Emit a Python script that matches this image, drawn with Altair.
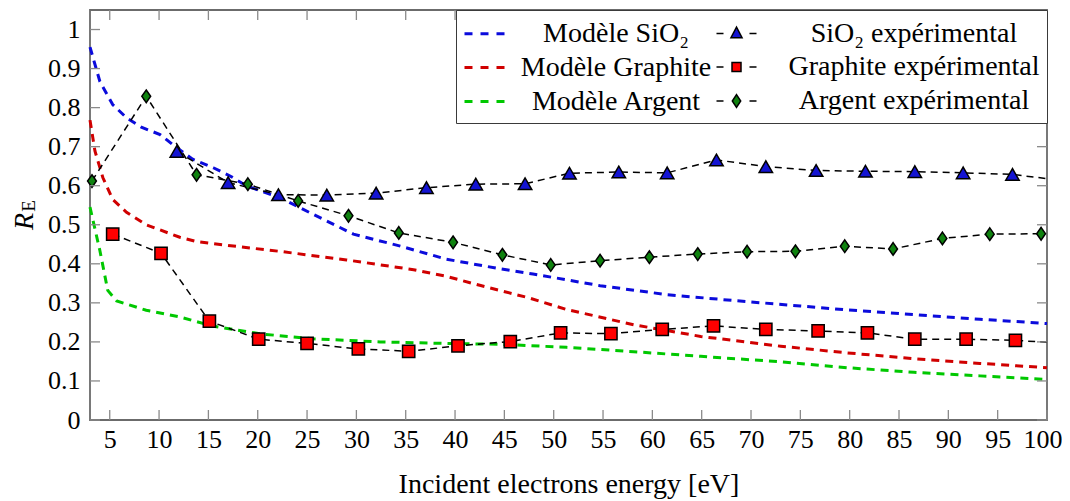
import altair as alt
import pandas as pd

# ---------------- data ----------------
sio2_model_x = [3, 4, 5.3, 6.7, 8.2, 10.1, 11.8, 13.4, 15.5, 17.2, 18.9, 22.2, 25.6, 29.7, 34.5,
                39.1, 44.6, 47.9, 54.7, 61.5, 68.2, 75, 79.7, 86.5, 93.2, 100]
sio2_model_y = [0.955, 0.867, 0.808, 0.774, 0.750, 0.731, 0.697, 0.668, 0.646, 0.625, 0.599,
                0.570, 0.527, 0.476, 0.445, 0.412, 0.387, 0.374, 0.344, 0.321, 0.306, 0.292,
                0.282, 0.270, 0.258, 0.247]

graphite_model_x = [3, 3.5, 4.3, 5.3, 6.7, 8.7, 12.1, 13.8, 17, 22.2, 29, 35.8, 39.1, 42.5,
                    47.6, 51.3, 58.1, 64.9, 73, 79.7, 86.5, 93.2, 100]
graphite_model_y = [0.768, 0.689, 0.621, 0.565, 0.532, 0.500, 0.468, 0.457, 0.447, 0.432,
                    0.410, 0.385, 0.368, 0.345, 0.312, 0.283, 0.244, 0.214, 0.189, 0.172,
                    0.157, 0.145, 0.134]

argent_model_x = [3, 4, 4.8, 5.7, 8.7, 12.1, 15.5, 20.5, 25.6, 32.4, 39.1, 44.6, 51.3, 58.1,
                  64.9, 73, 79.7, 86.5, 93.2, 100]
argent_model_y = [0.545, 0.434, 0.332, 0.305, 0.281, 0.264, 0.240, 0.220, 0.208, 0.200, 0.196,
                  0.194, 0.186, 0.175, 0.163, 0.149, 0.134, 0.122, 0.113, 0.104]

sio2_exp_x = [11.8, 17.0, 22.1, 27.0, 32.0, 37.1, 42.1, 47.1, 51.6, 56.6, 61.5, 66.5, 71.5,
              76.6, 81.6, 86.6, 91.5, 96.5, 100]
sio2_exp_y = [0.688, 0.608, 0.577, 0.576, 0.581, 0.595, 0.604, 0.605, 0.632, 0.635, 0.633,
              0.666, 0.649, 0.639, 0.637, 0.636, 0.633, 0.629, 0.618]

graphite_exp_x = [5.3, 10.2, 15.1, 20.1, 25.0, 30.2, 35.3, 40.3, 45.6, 50.7, 55.8, 61.0, 66.2,
                  71.5, 76.8, 81.8, 86.6, 91.8, 96.8, 100]
graphite_exp_y = [0.476, 0.427, 0.253, 0.207, 0.196, 0.182, 0.176, 0.190, 0.201, 0.223, 0.221,
                  0.232, 0.241, 0.232, 0.228, 0.223, 0.207, 0.207, 0.204, 0.199]

argent_exp_x = [3.2, 8.7, 13.8, 19.0, 24.1, 29.2, 34.3, 39.8, 44.8, 49.7, 54.7, 59.7, 64.6,
                69.6, 74.5, 79.5, 84.4, 89.4, 94.2, 99.4]
argent_exp_y = [0.612, 0.829, 0.628, 0.604, 0.561, 0.523, 0.479, 0.455, 0.423, 0.397, 0.408,
                0.417, 0.425, 0.431, 0.432, 0.445, 0.438, 0.465, 0.476, 0.477]

x_ticks = [5, 10, 15, 20, 25, 30, 35, 40, 45, 50, 55, 60, 65, 70, 75, 80, 85, 90, 95, 100]
y_ticks = [0, 0.1, 0.2, 0.3, 0.4, 0.5, 0.6, 0.7, 0.8, 0.9, 1]

# legend entries (column-major order: models first, then experiments)
legend_labels = ["Modèle SiO₂", "Modèle Graphite", "Modèle Argent",
                 "SiO₂ expérimental", "Graphite expérimental", "Argent expérimental"]
x_title = "Incident electrons energy [eV]"
y_title = "R"
y_title_sub = ["E"]

# ---------------- styling ----------------
FONT = "Liberation Serif, Times New Roman, serif"
W, H = 957, 410
X0, X1, Y0, Y1 = 3, 100, 0, 1.05
TICK_PX = 10

BLUE, RED, GREEN = "#0b0bdc", "#d00000", "#00c800"
TRI_FILL, SQ_FILL, DIA_FILL = "#1414d2", "#ff0000", "#0f820f"

xscale = alt.Scale(domain=[X0, X1], nice=False, zero=False)
yscale = alt.Scale(domain=[Y0, Y1], nice=False, zero=False)

x_axis = alt.Axis(values=x_ticks, ticks=False, tickSize=0, domain=False, grid=False,
                  labelFont=FONT, labelFontSize=26, labelColor="black", labelPadding=6,
                  labelFlush=True, labelFlushOffset=15, labelOverlap=False,
                  title=x_title, titleFont=FONT, titleFontSize=28, titleFontWeight="normal",
                  titleColor="black", titleX=W / 2, titleY=72, titleAlign="center",
                  titleBaseline="alphabetic")
y_axis = alt.Axis(values=y_ticks, format=".1~f", ticks=False, tickSize=0, domain=False,
                  grid=False, labelFont=FONT, labelFontSize=26, labelColor="black",
                  labelPadding=10, labelFlush=False, labelOverlap=False,
                  title=y_title, titleFont=FONT, titleFontSize=28, titleFontStyle="italic",
                  titleFontWeight="normal", titleColor="black", titleAngle=270,
                  titleX=-66, titleY=211, titleAlign="center", titleBaseline="middle")


def X(field="x"):
    return alt.X(f"{field}:Q", scale=xscale, axis=x_axis)


def Y(field="y"):
    return alt.Y(f"{field}:Q", scale=yscale, axis=y_axis)


def df(xs, ys):
    return pd.DataFrame({"x": xs, "y": ys})


layers = []

# model curves
for xs, ys, col in [(sio2_model_x, sio2_model_y, BLUE),
                    (graphite_model_x, graphite_model_y, RED),
                    (argent_model_x, argent_model_y, GREEN)]:
    layers.append(alt.Chart(df(xs, ys)).mark_line(color=col, strokeWidth=3, strokeDash=[8, 6])
                  .encode(x=X(), y=Y()))

# experimental dashed lines
for xs, ys in [(sio2_exp_x, sio2_exp_y), (graphite_exp_x, graphite_exp_y),
               (argent_exp_x, argent_exp_y)]:
    layers.append(alt.Chart(df(xs, ys)).mark_line(color="black", strokeWidth=1.5,
                                                  strokeDash=[7, 5])
                  .encode(x=X(), y=Y()))

# experimental markers
DIAMOND = "M0,-1L0.7,0L0,1L-0.7,0Z"
for xs, ys, shp, fill, size in [(sio2_exp_x, sio2_exp_y, "triangle-up", TRI_FILL, 180),
                                (graphite_exp_x, graphite_exp_y, "square", SQ_FILL, 150),
                                (argent_exp_x, argent_exp_y, DIAMOND, DIA_FILL, 160)]:
    layers.append(alt.Chart(df(xs, ys)).mark_point(shape=shp, filled=True, fill=fill,
                                                   stroke="black", strokeWidth=1.5,
                                                   size=size, opacity=1)
                  .transform_filter("datum.x < 99.9")
                  .encode(x=X(), y=Y()))

# inward ticks on all four sides
tl_y = TICK_PX / H * (Y1 - Y0)
tl_x = TICK_PX / W * (X1 - X0)
xt = pd.DataFrame({"x": x_ticks})
yt = pd.DataFrame({"y": y_ticks})
TICK_COLOR = "#8a8a8a"
layers.append(alt.Chart(xt).mark_rule(color=TICK_COLOR, strokeWidth=1.3)
              .encode(x=X(), y=alt.datum(Y0, scale=yscale), y2=alt.datum(Y0 + tl_y)))
layers.append(alt.Chart(xt).mark_rule(color=TICK_COLOR, strokeWidth=1.3)
              .encode(x=X(), y=alt.datum(Y1 - tl_y, scale=yscale), y2=alt.datum(Y1)))
layers.append(alt.Chart(yt).mark_rule(color=TICK_COLOR, strokeWidth=1.3)
              .encode(y=Y(), x=alt.datum(X0, scale=xscale), x2=alt.datum(X0 + tl_x)))
layers.append(alt.Chart(yt).mark_rule(color=TICK_COLOR, strokeWidth=1.3)
              .encode(y=Y(), x=alt.datum(X1 - tl_x, scale=xscale), x2=alt.datum(X1)))

# legend (built from a scale with an explicit domain; its own marks are filtered out)
MODEL_PATH = "M-1,0H-0.467M0.067,0H0.6M1.133,0H1.667"
EXP_DASH = "M-4.067,0H-3.6M-1.867,0H-1.4"
legend_paths = [MODEL_PATH, MODEL_PATH, MODEL_PATH,
                EXP_DASH + "M-2.733,-0.42L-2.363,0.28L-3.103,0.28Z",
                EXP_DASH + "M-3.033,-0.3H-2.433V0.3H-3.033Z",
                EXP_DASH + "M-2.733,-0.42L-2.453,0L-2.733,0.42L-3.013,0Z"]
legend_fills = ["transparent", "transparent", "transparent", TRI_FILL, SQ_FILL, DIA_FILL]
legend_strokes = [BLUE, RED, GREEN, "black", "black", "black"]
legend_widths = [3, 3, 3, 1.5, 1.5, 1.5]
leg = alt.Legend(title=None, orient="top-right", offset=0, columns=2, columnPadding=1,
                 rowPadding=3, padding=7, symbolSize=900, labelFont=FONT, labelFontSize=28,
                 labelColor="black", labelAlign="center", labelOffset=120, labelLimit=600,
                 strokeColor="#3a3a3a", fillColor="white", cornerRadius=0)
legend_layer = (alt.Chart(pd.DataFrame({"label": legend_labels}))
                .mark_point(filled=True, opacity=1)
                .transform_filter("false")
                .encode(shape=alt.Shape("label:N", scale=alt.Scale(domain=legend_labels,
                                                                    range=legend_paths),
                                        legend=leg),
                        fill=alt.Fill("label:N", scale=alt.Scale(domain=legend_labels,
                                                                 range=legend_fills),
                                      legend=leg),
                        stroke=alt.Stroke("label:N", scale=alt.Scale(domain=legend_labels,
                                                                     range=legend_strokes),
                                          legend=leg),
                        strokeWidth=alt.StrokeWidth("label:N",
                                                    scale=alt.Scale(type="ordinal",
                                                                    domain=legend_labels,
                                                                    range=legend_widths),
                                                    legend=leg)))
layers.append(legend_layer)

# subscript of the y title
layers.append(alt.Chart(pd.DataFrame({"t": y_title_sub}))
              .mark_text(angle=270, font=FONT, fontSize=19, align="center",
                         baseline="middle", color="black")
              .encode(x=alt.value(-61), y=alt.value(196), text="t:N"))

chart = (alt.layer(*layers)
         .properties(width=W, height=H,
                     padding={"left": 82, "top": 2, "right": 15, "bottom": 80},
                     autosize=alt.AutoSizeParams(type="none"),
                     background="white")
         .configure_view(stroke="#6b6b6b", strokeWidth=1.8))

chart.save("out.html", embed_options={"renderer": "svg", "actions": False})
